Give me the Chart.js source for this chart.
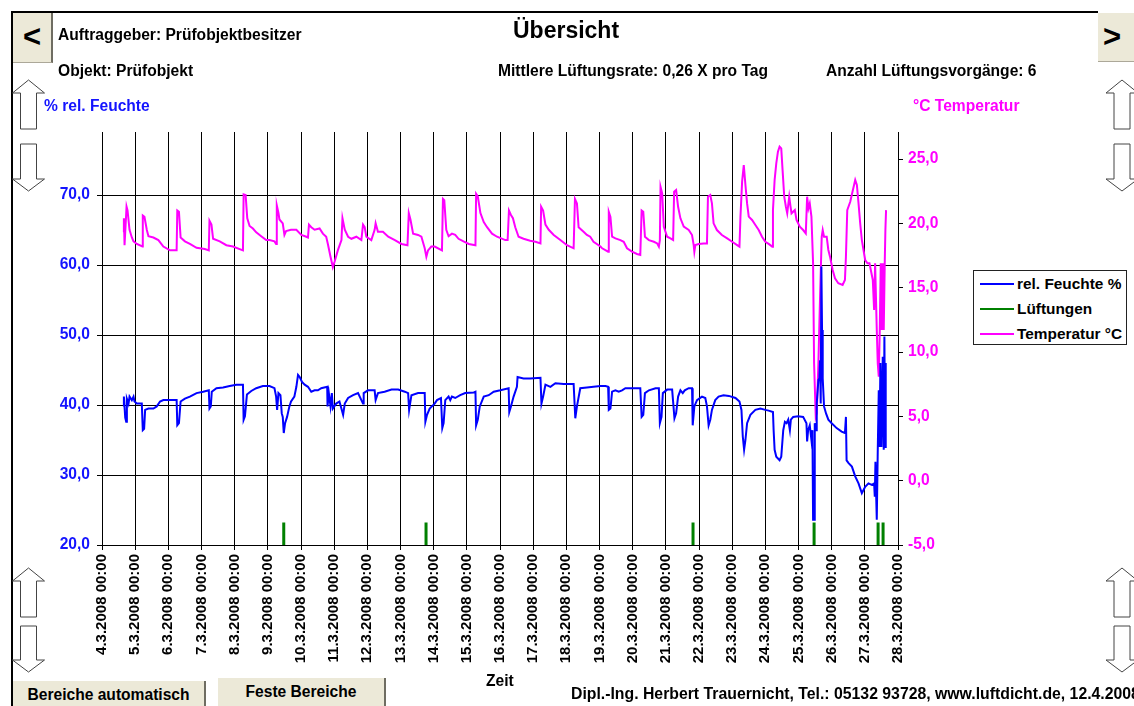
<!DOCTYPE html>
<html lang="de">
<head>
<meta charset="utf-8">
<title>Übersicht</title>
<script src="https://cdn.jsdelivr.net/npm/chart.js@4.4.1/dist/chart.umd.min.js"></script>
<style>
  html, body { margin: 0; padding: 0; background: #fff; }
  body { width: 1134px; height: 706px; position: relative; overflow: hidden;
         font-family: "Liberation Sans", Arial, sans-serif; font-weight: bold; }
  #chart { position: absolute; left: 0; top: 0; }
  .t { position: absolute; white-space: nowrap; font-size: 15.6px; line-height: 18px; color: #000; }
  .btn { position: absolute; box-sizing: border-box; background: #ece9d8; text-align: center;
         border-right: 2px solid #6f6d62; border-bottom: 1px solid #aca899; white-space: nowrap; }
  #legend { position: absolute; left: 973px; top: 270px; width: 154px; height: 75px;
            box-sizing: border-box; border: 1px solid #222; background: #fff; }
  #legend div { position: absolute; left: 0; width: 150px; height: 18px; white-space: nowrap;
                font-size: 15.4px; line-height: 18px; }
  #legend span.l { position: absolute; left: 6px; top: 8px; width: 34px; height: 2px; }
  #legend span.x { position: absolute; left: 43px; top: 0; }
  #frameTop { position: absolute; left: 11px; top: 11px; width: 1087px; height: 2px; background: #000; }
  #frameLeft { position: absolute; left: 11px; top: 11px; width: 2px; height: 695px; background: #000; }
  svg { position: absolute; left: 0; top: 0; }
</style>
</head>
<body>
<canvas id="chart" width="1134" height="706"></canvas>

<div id="frameTop"></div>
<div id="frameLeft"></div>

<div class="btn" style="left:13px;top:13px;width:40px;height:50px;font-size:31px;line-height:48px;">&lt;</div>
<div class="btn" style="left:1098px;top:13px;width:40px;height:49px;font-size:31px;line-height:47px;padding-right:10px;">&gt;</div>
<div class="btn" style="left:13px;top:681px;width:193px;height:30px;font-size:15.6px;line-height:28px;">Bereiche automatisch</div>
<div class="btn" style="left:218px;top:678px;width:168px;height:32px;font-size:15.6px;line-height:28px;">Feste Bereiche</div>

<div class="t" style="left:513px;top:17px;font-size:23px;line-height:26px;">Übersicht</div>
<div class="t" style="left:58px;top:26px;">Auftraggeber: Prüfobjektbesitzer</div>
<div class="t" style="left:58px;top:62px;">Objekt: Prüfobjekt</div>
<div class="t" style="left:498px;top:62px;">Mittlere Lüftungsrate: 0,26 X pro Tag</div>
<div class="t" style="left:826px;top:62px;">Anzahl Lüftungsvorgänge: 6</div>
<div class="t" style="left:44px;top:97px;color:#1414ff;">% rel. Feuchte</div>
<div class="t" style="left:913px;top:97px;color:#ff00ff;">°C Temperatur</div>
<div class="t" style="left:486px;top:672px;">Zeit</div>
<div class="t" style="left:571px;top:685px;font-size:15.8px;">Dipl.-Ing. Herbert Trauernicht, Tel.: 05132 93728, www.luftdicht.de, 12.4.2008</div>

<div id="legend"></div>
<svg id="arrows" width="1134" height="706"></svg>

<script>
// Zeit in Tagen ab 4.3.2008 00:00
const startTag = 4;

const feuchteZeit = [
  0.65, 0.66, 0.70, 0.73, 0.75, 0.80, 0.83, 0.90, 0.95, 0.98, 1.05, 1.20, 1.23, 1.27, 1.30, 1.40, 1.55, 1.65, 1.75, 1.85,
  2.25, 2.27, 2.32, 2.37, 2.50, 2.65, 2.85, 3.05, 3.22, 3.24, 3.28, 3.31, 3.45, 3.65, 3.85, 4.05, 4.25, 4.27, 4.31, 4.37,
  4.50, 4.65, 4.85, 5.05, 5.20, 5.25, 5.28, 5.32, 5.38, 5.42, 5.45, 5.48, 5.52, 5.58, 5.65, 5.70, 5.80, 5.86, 5.91, 5.96,
  6.03, 6.11, 6.21, 6.31, 6.41, 6.51, 6.61, 6.79, 6.80, 6.84, 6.89, 6.93, 6.96, 7.06, 7.16, 7.27, 7.32, 7.42, 7.57, 7.72,
  7.87, 7.89, 8.02, 8.22, 8.25, 8.32, 8.52, 8.73, 8.93, 9.13, 9.23, 9.26, 9.33, 9.53, 9.73, 9.75, 9.80, 9.88, 10.03,
  10.10, 10.22, 10.26, 10.30, 10.35, 10.45, 10.50, 10.55, 10.65, 10.80, 10.95, 11.21, 11.26, 11.28, 11.33, 11.39, 11.51,
  11.66, 11.81, 12.01, 12.26, 12.28, 12.33, 12.41, 12.51, 12.53, 12.71, 12.91, 13.22, 13.25, 13.30, 13.37, 13.52, 13.67,
  13.92, 14.22, 14.27, 14.32, 14.42, 14.62, 14.82, 15.03,
  15.18, 15.26, 15.28, 15.33, 15.38, 15.48, 15.58, 15.68, 15.78, 16.23, 16.27, 16.32, 16.37, 16.49, 16.69, 16.79, 16.82,
  16.87, 16.91, 17.04, 17.19, 17.26, 17.31, 17.37, 17.44, 17.51, 17.57, 17.69, 17.79, 17.81, 17.86, 17.94, 18.09, 18.19,
  18.24, 18.29, 18.34, 18.39, 18.49, 18.59, 18.74, 18.90, 19.10, 19.22, 19.28, 19.32, 19.36, 19.40, 19.45, 19.55, 19.70,
  19.85, 20.00,
  20.10, 20.23, 20.25, 20.28, 20.33, 20.43, 20.48, 20.54, 20.59, 20.64, 20.69, 20.74, 20.77, 20.84, 20.99, 21.14, 21.24,
  21.26, 21.29, 21.34, 21.39, 21.42, 21.44, 21.47, 21.49, 21.53, 21.55, 21.60, 21.63, 21.65, 21.67, 21.69, 21.71, 21.73,
  21.77, 21.83, 21.90, 22.00, 22.15, 22.30, 22.40, 22.43, 22.45, 22.51, 22.61, 22.71, 22.81, 22.91, 23.01, 23.11, 23.21,
  23.28, 23.30, 23.32, 23.34, 23.36, 23.39, 23.42, 23.44, 23.47, 23.50, 23.54, 23.57, 23.59, 23.61, 23.63
];
const feuchteWerte = [
  39.8, 41.2, 38.2, 37.6, 40.9, 40.2, 41.2, 40.7, 41.2, 40.5, 40.2, 40.2, 36.4, 36.6, 39.3, 39.5, 39.5, 39.8, 40.5, 40.7,
  40.7, 37.1, 37.4, 40.5, 40.9, 41.2, 41.7, 41.9, 42.1, 39.5, 39.8, 41.9, 42.4, 42.5, 42.7, 42.9, 42.9, 37.9, 38.4, 41.5,
  42.0, 42.4, 42.7, 42.7, 42.4, 41.2, 39.3, 41.7, 41.4, 38.8, 38.3, 36.0, 37.4, 38.3, 39.8, 40.5, 41.2, 42.6, 44.3, 44.0,
  43.3, 42.9, 42.6, 41.9, 42.1, 42.1, 42.4, 42.6, 39.8, 41.7, 39.8, 41.7, 39.5, 40.2, 40.5, 38.6, 40.2, 41.0, 41.4, 41.7,
  40.2, 41.7, 42.1, 42.1, 40.7, 41.7, 41.9, 42.2, 42.2, 41.9, 41.7, 39.3, 41.4, 41.7, 41.7, 37.6, 38.6, 39.5, 40.2,
  40.7, 41.0, 36.7, 37.4, 40.7, 41.2, 40.7, 41.2, 41.0, 41.4, 41.7, 41.8, 41.9, 37.1, 37.9, 39.8, 41.2,
  41.4, 41.9, 42.1, 42.4, 39.0, 39.8, 41.2, 42.6, 44.0, 43.8, 43.8, 43.9, 40.2, 41.2, 42.9, 42.6, 43.1,
  43.0, 43.0, 38.1, 39.8, 42.4, 42.5, 42.6, 42.7,
  42.7, 42.6, 39.3, 39.5, 41.9, 42.1, 41.9, 42.1, 42.4, 42.4, 38.3, 38.6, 41.7, 42.1, 42.4, 42.4, 37.4,
  38.3, 41.7, 42.2, 42.2, 38.1, 38.8, 41.2, 42.1, 41.7, 42.1, 42.4, 42.4, 37.1, 39.8, 40.7, 41.2, 41.0,
  39.8, 37.1, 37.9, 39.3, 40.7, 41.2, 41.4, 41.3, 41.0, 40.5, 39.3, 35.5, 33.6, 35.0, 37.4, 38.6, 39.3,
  39.5, 39.3,
  39.2, 39.0, 36.4, 33.6, 32.6, 32.1, 32.6, 36.4, 37.6, 37.4, 37.9, 36.4, 37.9, 38.3, 38.4, 38.3, 37.4,
  34.8, 36.4, 37.1, 35.0, 36.4, 23.6, 23.6, 37.4, 36.4, 40.2, 43.6, 43.8, 46.4, 40.2, 59.8, 50.7, 43.8,
  39.8, 38.8, 37.9, 37.4, 36.7, 36.2, 36.0, 38.3, 32.1, 31.7, 31.2, 29.8, 28.8, 27.4, 28.3, 28.8, 28.6,
  28.8, 26.9, 31.9, 27.4, 23.6, 33.6, 42.1, 34.0, 46.0, 34.0, 46.9, 33.6, 49.8, 34.0, 46.0
];

const tempZeit = [
  0.65, 0.66, 0.68, 0.74, 0.77, 0.83, 0.90, 0.95, 1.05, 1.22, 1.23, 1.28, 1.35, 1.40, 1.55, 1.70, 1.85, 2.05, 2.25, 2.27,
  2.32, 2.37, 2.50, 2.65, 2.85, 3.10, 3.22, 3.24, 3.30, 3.35, 3.55, 3.75, 3.95, 4.15, 4.25, 4.27, 4.33, 4.38, 4.45, 4.55,
  4.65, 4.80, 4.95, 5.05,
  5.20, 5.25, 5.27, 5.32, 5.35, 5.45, 5.50, 5.55, 5.70, 5.86, 6.01, 6.16, 6.21, 6.24, 6.31, 6.41, 6.56, 6.66, 6.76, 6.81,
  6.89, 6.96, 7.01, 7.11, 7.22, 7.25, 7.32, 7.42, 7.52, 7.67, 7.82, 7.87, 7.92, 7.97, 8.12, 8.22, 8.25, 8.32, 8.47, 8.63,
  8.83, 9.03, 9.21, 9.25, 9.30, 9.38, 9.53, 9.63, 9.73, 9.78, 9.83, 9.93, 10.03,
  10.25, 10.28, 10.32, 10.38, 10.45, 10.55, 10.65, 10.75, 10.90, 11.06, 11.26, 11.28, 11.33, 11.41, 11.51, 11.61, 11.76,
  11.91, 12.16, 12.23, 12.27, 12.33, 12.39, 12.46, 12.56, 12.71, 12.91, 13.07, 13.22, 13.24, 13.30, 13.37, 13.47, 13.62,
  13.82, 14.02, 14.22, 14.26, 14.32, 14.37, 14.52, 14.62, 14.72, 14.82, 15.03,
  15.08, 15.26, 15.28, 15.33, 15.38, 15.48, 15.63, 15.73, 15.83, 15.98, 16.13, 16.23, 16.27, 16.32, 16.37, 16.49, 16.64,
  16.74, 16.79, 16.82, 16.84, 16.89, 16.94, 17.04, 17.14, 17.22, 17.25, 17.31, 17.37, 17.44, 17.54, 17.69, 17.79, 17.84,
  17.86, 17.89, 17.99, 18.14, 18.24, 18.27, 18.34, 18.39, 18.44, 18.54, 18.69, 18.85, 19.00, 19.15, 19.22, 19.25, 19.30,
  19.35, 19.40, 19.45, 19.50, 19.60, 19.70, 19.80, 19.90, 20.00,
  20.10, 20.21, 20.23, 20.28, 20.33, 20.38, 20.43, 20.48, 20.52, 20.57, 20.62, 20.66, 20.72, 20.76, 20.79, 20.89, 20.94,
  21.04, 21.14, 21.22, 21.26, 21.30, 21.34, 21.39, 21.44, 21.47, 21.52, 21.55, 21.60, 21.65, 21.70, 21.73, 21.77, 21.85,
  21.90, 21.95, 22.03, 22.10, 22.20, 22.33, 22.40, 22.43, 22.47, 22.56, 22.64, 22.71, 22.76, 22.81, 22.86, 22.91, 22.96,
  23.01, 23.08, 23.14, 23.18, 23.24, 23.28, 23.31, 23.36, 23.39, 23.42, 23.45, 23.48, 23.51, 23.54, 23.57, 23.60, 23.62,
  23.64
];
const tempWerte = [
  19.3, 20.4, 18.3, 21.3, 21.0, 19.5, 18.9, 18.6, 18.4, 18.2, 20.6, 20.5, 19.5, 19.0, 18.9, 18.7, 18.2, 17.9, 17.9, 21.0,
  20.9, 18.9, 18.6, 18.4, 18.1, 18.0, 17.9, 20.2, 19.9, 18.8, 18.6, 18.3, 18.2, 18.0, 17.9, 22.25, 22.2, 20.4, 19.8, 19.6,
  19.3, 19.0, 18.7, 18.7,
  18.6, 18.4, 21.4, 20.8, 20.3, 20.0, 19.1, 19.4, 19.5, 19.5, 19.1, 18.96, 18.9, 19.9, 19.7, 19.5, 19.6, 19.2, 18.96, 18.4,
  17.4, 16.6, 17.0, 17.9, 18.7, 20.4, 19.5, 18.96, 18.8, 18.96, 18.7, 19.9, 19.7, 18.96, 18.7, 19.5, 20.0, 19.35, 19.35, 18.96,
  18.7, 18.4, 18.3, 20.8, 20.3, 19.2, 19.1, 18.96, 18.06, 17.4, 17.9, 18.2, 18.2,
  17.9, 21.9, 21.8, 19.5, 19.0, 19.2, 19.1, 18.8, 18.6, 18.4, 18.3, 22.3, 22.1, 20.8, 20.1, 19.7, 19.2,
  18.96, 18.7, 18.7, 21.0, 20.65, 20.4, 19.7, 18.96, 18.8, 18.65, 18.57, 18.44, 21.3, 21.0, 19.9, 19.5, 19.1,
  18.7, 18.3, 18.06, 21.9, 21.55, 19.7, 19.35, 19.1, 18.96, 18.57, 18.2,
  18.06, 17.8, 20.9, 20.5, 18.96, 18.83, 18.7, 18.57, 18.06, 17.8, 17.62, 17.54, 21.0, 20.9, 18.96, 18.7, 18.57,
  18.44, 18.19, 18.7, 22.85, 22.33, 19.74, 18.96, 18.83, 18.7, 22.46, 22.59, 21.29, 20.39, 19.74, 19.48, 19.09, 18.31,
  17.8, 18.31, 18.39, 18.44, 18.44, 22.07, 22.2, 21.55, 20.0, 19.48, 19.09, 18.83, 18.57, 18.31, 18.19, 20.52, 23.24,
  24.53, 22.98, 21.55, 20.52, 20.26, 19.87, 19.48, 18.96, 18.57,
  18.4, 18.19, 21.03, 23.37, 24.66, 25.57, 25.96, 25.83, 24.14, 22.07, 21.29, 20.78, 22.07, 21.29, 20.78, 21.03, 20.26,
  19.74, 19.48, 19.22, 22.07, 21.16, 21.55, 20.52, 16.89, 9.12, 4.98, 5.24, 9.12, 14.3, 18.96, 19.48, 18.96, 18.96,
  17.93, 17.41, 16.37, 15.73, 15.34, 15.21, 15.6, 17.41, 21.03, 21.68, 22.59, 23.37, 22.98, 21.55, 20.0, 18.7, 17.93,
  17.15, 16.89, 16.89, 16.37, 15.6, 13.26, 16.89, 11.71, 9.12, 8.08, 11.71, 16.89, 11.71, 16.89, 11.71, 16.89, 19.48,
  21.03
];

const lueftungZeit = [5.48, 9.77, 17.82, 21.47, 23.40, 23.55];
const lueftungWerte = [23.2, 23.2, 23.2, 23.2, 23.2, 23.2];
const feuchteBasis = 20;

const schrift = "'Liberation Sans', Arial, sans-serif";
const komma = v => v.toFixed(1).replace('.', ',');

function punkte(zeit, werte) {
  return zeit.map((x, i) => ({ x: x, y: werte[i] }));
}

// jeder Lüftungsvorgang als senkrechter Strich von der Grundlinie
const lueftungPunkte = [];
lueftungZeit.forEach((x, i) => {
  lueftungPunkte.push({ x: x, y: feuchteBasis }, { x: x, y: lueftungWerte[i] }, { x: x, y: null });
});

const chart = new Chart(document.getElementById('chart'), {
  type: 'line',
  data: {
    datasets: [
      { label: 'rel. Feuchte %', data: punkte(feuchteZeit, feuchteWerte), borderColor: '#0000ff',
        borderWidth: 2, yAxisID: 'y' },
      { label: 'Lüftungen', data: lueftungPunkte, borderColor: '#008000', borderWidth: 3,
        yAxisID: 'y', spanGaps: false },
      { label: 'Temperatur °C', data: punkte(tempZeit, tempWerte), borderColor: '#ff00ff',
        borderWidth: 2, yAxisID: 'y2' }
    ]
  },
  options: {
    responsive: false,
    animation: false,
    layout: { padding: { top: 132, left: 0, right: 0, bottom: 0 } },
    elements: { point: { radius: 0 }, line: { tension: 0, fill: false } },
    plugins: { legend: { display: false }, tooltip: { enabled: false } },
    scales: {
      x: {
        type: 'linear', position: 'bottom', min: 0, max: 24,
        afterFit: s => { s.height = 161; },
        grid: { color: '#000', lineWidth: 1, tickLength: 5 },
        border: { color: '#000' },
        ticks: {
          stepSize: 1, autoSkip: false, minRotation: 90, maxRotation: 90, padding: 4,
          color: '#000', font: { family: schrift, size: 15, weight: 'bold' },
          callback: v => (startTag + v) + '.3.2008 00:00'
        }
      },
      y: {
        position: 'left', min: 20, max: 79,
        afterFit: s => { s.width = 102; },
        grid: { color: '#000', lineWidth: 1, tickLength: 5 },
        border: { display: false },
        ticks: {
          stepSize: 10, includeBounds: false, padding: 7, color: '#1414ff',
          font: { family: schrift, size: 15.6, weight: 'bold' }, callback: komma
        }
      },
      y2: {
        position: 'right', min: -5, max: 27.1,
        afterFit: s => { s.width = 236; },
        grid: { drawOnChartArea: false, color: '#000', tickLength: 5 },
        border: { display: false },
        ticks: {
          stepSize: 5, includeBounds: false, padding: 5, color: '#ff00ff',
          font: { family: schrift, size: 15.6, weight: 'bold' }, callback: komma
        }
      }
    }
  }
});

// Legende aus den Datensätzen
const legende = document.getElementById('legend');
chart.data.datasets.forEach((ds, i) => {
  const zeile = document.createElement('div');
  zeile.style.top = (4 + i * 25) + 'px';
  zeile.innerHTML = '<span class="l" style="background:' + ds.borderColor + '"></span><span class="x"></span>';
  zeile.querySelector('.x').textContent = ds.label;
  legende.appendChild(zeile);
});

// Pfeile links und rechts
function pfeil(cx, y0, y1, y2, hoch) {
  let p;
  if (hoch) {
    p = [[cx, y0], [cx + 16, y1], [cx + 8, y1], [cx + 8, y2], [cx - 8, y2], [cx - 8, y1], [cx - 16, y1]];
  } else {
    p = [[cx - 8, y0], [cx + 8, y0], [cx + 8, y1], [cx + 16, y1], [cx, y2], [cx - 16, y1], [cx - 8, y1]];
  }
  return '<polygon points="' + p.map(q => q.join(',')).join(' ') + '" fill="#fff" stroke="#444" stroke-width="1"/>';
}
let svg = '';
[28.5, 1122].forEach(cx => {
  svg += pfeil(cx, 80, 93, 129, true) + pfeil(cx, 144, 179, 191, false);
  svg += pfeil(cx, 568, 581, 617, true) + pfeil(cx, 626, 660, 672, false);
});
document.getElementById('arrows').innerHTML = svg;
</script>
</body>
</html>
